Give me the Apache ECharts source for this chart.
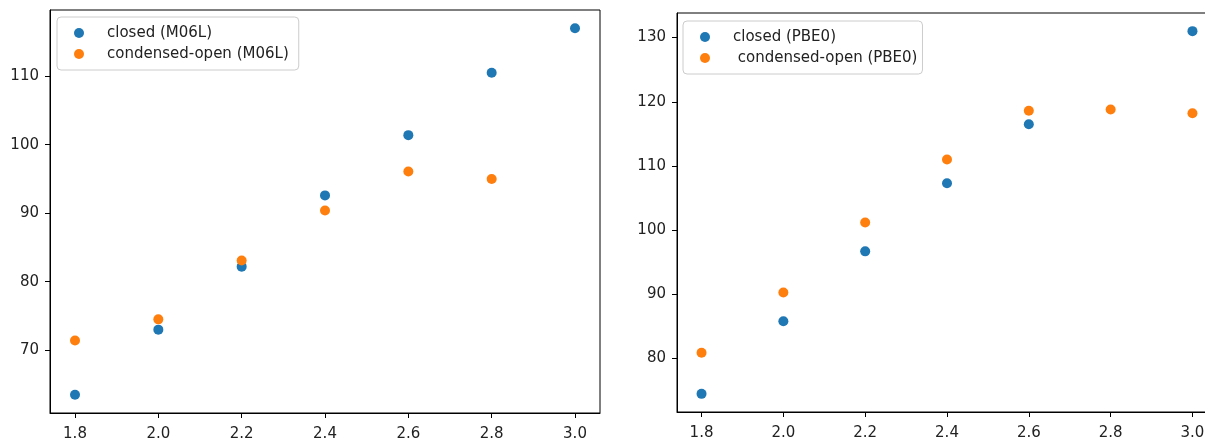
<!DOCTYPE html>
<html>
<head>
<meta charset="utf-8">
<script src="https://cdn.jsdelivr.net/npm/echarts@6/dist/echarts.min.js"></script>
<style>
html,body{margin:0;padding:0;background:#fff;overflow:hidden;}
#chart{width:1230px;height:440px;}
</style>
</head>
<body>
<div id="chart"></div>
<script>
// ---- data ----
const xTicks = [1.8, 2.0, 2.2, 2.4, 2.6, 2.8, 3.0];
const yTicksLeft = [70, 80, 90, 100, 110];
const yTicksRight = [80, 90, 100, 110, 120, 130];

const leftX_closed = [1.8, 2.0, 2.2, 2.4, 2.6, 2.8, 3.0];
const leftY_closed = [63.5, 73.0, 82.2, 92.6, 101.4, 110.5, 117.0];
const leftX_open = [1.8, 2.0, 2.2, 2.4, 2.6, 2.8];
const leftY_open = [71.4, 74.5, 83.1, 90.4, 96.1, 95.0];

const rightX_closed = [1.8, 2.0, 2.2, 2.4, 2.6, 3.0];
const rightY_closed = [74.5, 85.8, 96.7, 107.3, 116.5, 131.0];
const rightX_open = [1.8, 2.0, 2.2, 2.4, 2.6, 2.8, 3.0];
const rightY_open = [80.9, 90.3, 101.2, 111.0, 118.6, 118.8, 118.2];

const seriesNames = ['closed (M06L)', 'condensed-open (M06L)', 'closed (PBE0)', ' condensed-open (PBE0)'];
const colors = ['#1f77b4', '#ff7f0e'];

function pairs(xs, ys) { return xs.map((x, i) => [x, ys[i]]); }

// matplotlib-style auto limits (5% margins)
function lim(arrs) {
  const all = [].concat(...arrs);
  const mn = Math.min(...all), mx = Math.max(...all);
  const m = (mx - mn) * 0.05;
  return [mn - m, mx + m];
}
const xl = lim([xTicks]);
const yl1 = lim([leftY_closed, leftY_open]);
const yl2 = lim([rightY_closed, rightY_open]);

const FONT = 'DejaVu Sans';
const FS = 15;

function xAxis(gi) {
  return {
    type: 'value', gridIndex: gi, min: xl[0], max: xl[1],
    axisLine: { show: true, onZero: false, lineStyle: { color: '#000', width: 1 } },
    axisTick: { show: true, inside: false, length: 5, lineStyle: { color: '#000', width: 1 }, customValues: xTicks },
    axisLabel: { margin: 14, color: '#222', fontFamily: FONT, fontSize: FS, customValues: xTicks,
      formatter: v => Number(v).toFixed(1) },
    splitLine: { show: false }
  };
}
function yAxis(gi, yl, ticks) {
  return {
    type: 'value', gridIndex: gi, min: yl[0], max: yl[1],
    axisLine: { show: true, onZero: false, lineStyle: { color: '#000', width: 1 } },
    axisTick: { show: true, inside: false, length: 5, lineStyle: { color: '#000', width: 1 }, customValues: ticks },
    axisLabel: { margin: 11, color: '#222', fontFamily: FONT, fontSize: FS, customValues: ticks },
    splitLine: { show: false }
  };
}
function legend(left, top, names, padRight) {
  return {
    orient: 'vertical', left: left, top: top,
    data: names,
    icon: 'circle', itemWidth: 38, itemHeight: 10, itemGap: 5,
    padding: [8, padRight, 8, 17],
    borderColor: '#cccccc', borderWidth: 1, borderRadius: 4,
    backgroundColor: 'rgba(255,255,255,0.8)',
    textStyle: { fontFamily: FONT, fontSize: FS, color: '#222', lineHeight: 16, padding: [0, 0, 0, 4] },
    selectedMode: false
  };
}
function sc(name, gi, data, color) {
  return {
    name: name, type: 'scatter', xAxisIndex: gi, yAxisIndex: gi,
    data: data, symbol: 'circle', symbolSize: 10,
    itemStyle: { color: color, opacity: 1 },
    emphasis: { disabled: true }, animation: false
  };
}

const chart = echarts.init(document.getElementById('chart'), null, { renderer: 'canvas' });
chart.setOption({
  animation: false,
  backgroundColor: '#fff',
  grid: [
    { left: 50, top: 10, width: 550, height: 403, outerBoundsMode: 'none', containLabel: false, show: true, borderColor: '#000', borderWidth: 1, backgroundColor: 'transparent' },
    { left: 677, top: 13, width: 540, height: 399, outerBoundsMode: 'none', containLabel: false, show: true, borderColor: '#000', borderWidth: 1, backgroundColor: 'transparent' }
  ],
  xAxis: [xAxis(0), xAxis(1)],
  yAxis: [yAxis(0, yl1, yTicksLeft), yAxis(1, yl2, yTicksRight)],
  legend: [legend(57, 17, [seriesNames[0], seriesNames[1]], 10), legend(683, 21, [seriesNames[2], seriesNames[3]], 5)],
  series: [
    sc(seriesNames[0], 0, pairs(leftX_closed, leftY_closed), colors[0]),
    sc(seriesNames[1], 0, pairs(leftX_open, leftY_open), colors[1]),
    sc(seriesNames[2], 1, pairs(rightX_closed, rightY_closed), colors[0]),
    sc(seriesNames[3], 1, pairs(rightX_open, rightY_open), colors[1])
  ]
});
</script>
</body>
</html>
